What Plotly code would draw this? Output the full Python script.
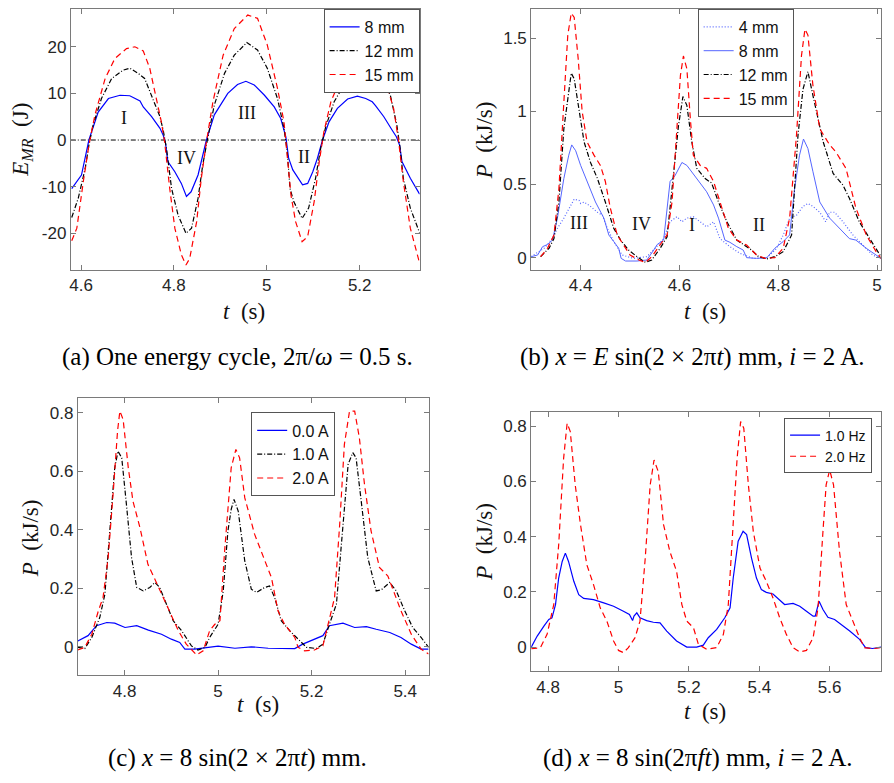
import plotly.graph_objects as go

# ---------------- Panel (a): E_MR vs t ----------------
a_t8 = [4.58,4.601,4.617,4.637,4.659,4.684,4.705,4.727,4.734,4.752,4.77,4.777,4.782,4.787,4.802,4.816,4.827,4.837,4.852,4.862,4.87,4.887,4.916,4.937,4.955,4.973,4.995,5.016,5.03,5.041,5.047,5.056,5.066,5.077,5.088,5.099,5.109,5.12,5.134,5.152,5.174,5.195,5.213,5.227,5.234,5.252,5.27,5.279,5.286,5.291,5.309,5.329]
a_e8 = [-10.4,-7.5,0,6,8.9,9.6,9.5,8.4,7.1,5,2.5,1,-0.7,-4.6,-6.8,-9.3,-12.1,-11.1,-7.5,-3.2,0,5.4,10,11.9,12.6,11.8,9.6,7.1,4.6,0.7,-3.9,-6.4,-7.9,-9.6,-9.3,-6.8,-3.9,0,3.9,6.8,8.8,9.4,8.9,8.2,7.4,5,2.1,0.7,-1.1,-4.6,-8.2,-11.6]
a_t12 = [4.58,4.594,4.609,4.617,4.626,4.644,4.666,4.691,4.705,4.723,4.737,4.755,4.77,4.777,4.784,4.795,4.809,4.826,4.838,4.852,4.862,4.872,4.887,4.909,4.93,4.957,4.98,5.001,5.023,5.037,5.044,5.05,5.058,5.076,5.09,5.105,5.116,5.127,5.145,5.166,5.188,5.216,5.252,5.266,5.28,5.287,5.294,5.309,5.329]
a_e12 = [-16.6,-12.5,-6.1,-1.1,3.2,8.9,13.2,15,15.4,14.3,13.2,8.9,5,2.1,-1.8,-10.4,-16.1,-20,-18.9,-12.5,-5.4,0,7.5,14.3,18.2,20.9,19.3,15.4,8.9,2.5,-2.5,-10.4,-13.2,-16.8,-14.6,-8.2,-1.8,2.9,8.2,11.8,13.6,13.9,12.5,9.6,3.2,-1.8,-8.2,-14.6,-19.9]
a_t15 = [4.58,4.591,4.605,4.617,4.63,4.652,4.673,4.698,4.716,4.734,4.748,4.762,4.773,4.78,4.791,4.802,4.816,4.826,4.834,4.849,4.859,4.87,4.884,4.906,4.93,4.959,4.98,5.001,5.023,5.037,5.044,5.052,5.062,5.076,5.088,5.102,5.113,5.123,5.138,5.159,5.185,5.21,5.235,5.258,5.273,5.284,5.294,5.309,5.329]
a_e15 = [-21.6,-18.9,-8.9,-1.1,5.4,13.2,17.5,19.6,20,19.1,15.4,8.9,3.9,-0.4,-10.4,-18.9,-24.6,-26.8,-25.4,-17.5,-8.2,-0.4,8.2,18.2,23.9,26.8,26.1,20.4,11.1,3.9,-3.9,-11.8,-17.5,-21.8,-20.7,-13.2,-4.6,1.8,8.2,13.2,17.5,18.8,16.2,11.8,6.8,-0.4,-8.9,-18.9,-26.4]
a_zero_t = [4.578, 5.329]
a_zero_e = [0, 0]
a_labels = ["I", "III", "IV", "II"]
a_label_t = [4.692, 4.958, 4.827, 5.08]
a_label_e = [4.8, 5.8, -3.9, -3.6]

# ---------------- Panel (b): P vs t, amplitudes ----------------
b_t4 = [4.3,4.326,4.343,4.353,4.366,4.38,4.387,4.397,4.4,4.407,4.42,4.434,4.444,4.454,4.467,4.484,4.507,4.534,4.551,4.568,4.581,4.595,4.605,4.615,4.628,4.642,4.655,4.669,4.682,4.702,4.722,4.749,4.777,4.797,4.81,4.823,4.837,4.85,4.86,4.87,4.884,4.896,4.904,4.914,4.931,4.951,4.971,4.991,5.008]
b_p4 = [0.007,0.064,0.13,0.2,0.27,0.36,0.4,0.39,0.37,0.38,0.35,0.31,0.29,0.2,0.11,0.018,-0.005,0.007,0.064,0.13,0.245,0.28,0.245,0.27,0.28,0.245,0.21,0.245,0.13,0.075,0.03,-0.005,0,0.064,0.155,0.27,0.29,0.35,0.37,0.35,0.31,0.245,0.31,0.31,0.245,0.155,0.086,0.018,-0.005]
b_t8 = [4.3,4.313,4.323,4.333,4.343,4.353,4.366,4.376,4.382,4.39,4.4,4.413,4.43,4.447,4.457,4.467,4.477,4.482,4.491,4.514,4.534,4.548,4.555,4.568,4.581,4.591,4.605,4.615,4.635,4.655,4.669,4.679,4.692,4.702,4.716,4.729,4.736,4.756,4.777,4.793,4.81,4.823,4.833,4.843,4.851,4.86,4.87,4.884,4.904,4.924,4.944,4.957,4.978,4.998,5.008]
b_p8 = [0.007,0.018,0.075,0.09,0.12,0.27,0.54,0.7,0.77,0.73,0.63,0.52,0.38,0.27,0.155,0.11,0.064,-0.005,-0.023,-0.023,-0.016,0.052,0.09,0.12,0.52,0.56,0.65,0.63,0.54,0.45,0.36,0.27,0.12,0.105,0.075,0.052,0,-0.005,0,0.064,0.11,0.155,0.47,0.7,0.81,0.745,0.59,0.38,0.27,0.2,0.13,0.12,0.064,0.018,-0.005]
b_t12 = [4.319,4.336,4.346,4.356,4.366,4.376,4.381,4.387,4.397,4.407,4.42,4.434,4.45,4.467,4.481,4.497,4.514,4.531,4.544,4.561,4.575,4.588,4.598,4.607,4.615,4.625,4.635,4.652,4.665,4.679,4.696,4.716,4.732,4.746,4.76,4.777,4.793,4.81,4.827,4.84,4.85,4.86,4.87,4.891,4.911,4.931,4.944,4.964,4.985,5.008]
b_p12 = [0.007,0.064,0.13,0.38,0.88,1.15,1.26,1.22,1.0,0.79,0.65,0.54,0.38,0.2,0.12,0.052,0.007,-0.032,-0.016,0.064,0.143,0.56,0.9,1.1,1.04,0.79,0.61,0.54,0.51,0.38,0.245,0.12,0.086,0.052,0.007,-0.009,0.007,0.041,0.155,0.84,1.15,1.27,1.11,0.79,0.575,0.495,0.405,0.245,0.13,0.007]
b_t15 = [4.319,4.333,4.346,4.356,4.366,4.374,4.381,4.387,4.395,4.403,4.413,4.427,4.44,4.45,4.46,4.474,4.487,4.5,4.518,4.531,4.544,4.561,4.575,4.585,4.595,4.602,4.608,4.615,4.622,4.628,4.642,4.655,4.669,4.682,4.699,4.716,4.736,4.756,4.773,4.793,4.81,4.823,4.837,4.847,4.854,4.86,4.87,4.884,4.904,4.917,4.937,4.957,4.978,4.998,5.008]
b_p15 = [0.007,0.064,0.155,0.47,1.06,1.52,1.67,1.64,1.36,1.0,0.79,0.7,0.63,0.52,0.34,0.155,0.086,0.018,-0.016,-0.032,0.007,0.086,0.155,0.38,0.88,1.245,1.377,1.29,0.95,0.7,0.63,0.61,0.52,0.38,0.2,0.12,0.086,0.018,-0.005,0,0.064,0.27,0.84,1.38,1.56,1.52,1.18,0.88,0.77,0.72,0.61,0.34,0.155,0.041,-0.005]
b_labels = ["III", "IV", "I", "II"]
b_label_t = [4.396, 4.524, 4.625, 4.761]
b_label_p = [0.234, 0.227, 0.22, 0.22]

# ---------------- Panel (c): P vs t, currents ----------------
c_t0 = [4.7,4.722,4.74,4.762,4.779,4.801,4.826,4.851,4.879,4.9,4.918,4.929,4.95,4.979,5.0,5.036,5.071,5.107,5.164,5.181,5.203,5.224,5.238,5.267,5.292,5.317,5.338,5.367,5.391,5.413,5.434,5.45]
c_p0 = [0.02,0.038,0.072,0.083,0.081,0.066,0.072,0.057,0.043,0.026,0.015,-0.008,-0.008,-0.002,0.002,-0.005,0,-0.005,-0.006,0.009,0.023,0.038,0.072,0.081,0.066,0.069,0.06,0.049,0.032,0.009,-0.008,-0.008]
c_t1 = [4.7,4.715,4.73,4.747,4.758,4.769,4.779,4.786,4.794,4.804,4.815,4.826,4.84,4.854,4.865,4.875,4.89,4.904,4.922,4.943,4.957,4.972,4.982,5.0,5.011,5.021,5.028,5.034,5.043,5.057,5.071,5.082,5.1,5.11,5.121,5.135,5.153,5.171,5.189,5.21,5.224,5.238,5.253,5.263,5.278,5.288,5.295,5.306,5.32,5.338,5.349,5.367,5.381,5.399,5.416,5.434,5.45]
c_p1 = [-0.002,-0.006,0.032,0.1,0.18,0.396,0.612,0.669,0.646,0.487,0.305,0.203,0.191,0.203,0.22,0.203,0.146,0.089,0.055,0.003,-0.011,-0.002,0.032,0.077,0.191,0.396,0.47,0.504,0.464,0.294,0.197,0.186,0.203,0.208,0.168,0.089,0.055,0.026,-0.002,-0.006,0.009,0.077,0.146,0.339,0.624,0.664,0.646,0.498,0.305,0.191,0.195,0.22,0.191,0.123,0.066,0.032,-0.002]
c_t2 = [4.7,4.715,4.73,4.744,4.754,4.765,4.776,4.785,4.79,4.797,4.808,4.818,4.833,4.85,4.868,4.883,4.897,4.915,4.932,4.954,4.968,4.982,4.993,5.004,5.014,5.028,5.038,5.046,5.057,5.078,5.1,5.114,5.128,5.142,5.164,5.171,5.185,5.206,5.224,5.238,5.249,5.26,5.27,5.281,5.292,5.302,5.313,5.327,5.345,5.363,5.377,5.391,5.413,5.434,5.45]
c_p2 = [-0.011,-0.002,0.043,0.123,0.168,0.305,0.533,0.737,0.806,0.777,0.612,0.498,0.407,0.282,0.22,0.168,0.117,0.055,0.009,-0.028,-0.014,0.055,0.077,0.089,0.328,0.612,0.675,0.646,0.51,0.385,0.294,0.237,0.123,0.077,0.032,-0.002,-0.014,-0.011,0.003,0.1,0.168,0.419,0.692,0.806,0.806,0.715,0.555,0.396,0.271,0.242,0.18,0.123,0.043,-0.008,-0.025]

# ---------------- Panel (d): P vs t, frequencies ----------------
d_t1 = [4.752,4.769,4.788,4.802,4.811,4.821,4.83,4.84,4.849,4.858,4.873,4.887,4.901,4.929,4.958,4.986,5.014,5.031,5.04,5.044,5.052,5.061,5.08,5.099,5.118,5.137,5.165,5.194,5.222,5.241,5.255,5.279,5.302,5.317,5.326,5.34,5.354,5.364,5.378,5.392,5.406,5.42,5.439,5.458,5.472,5.496,5.515,5.534,5.553,5.559,5.564,5.57,5.581,5.595,5.614,5.633,5.657,5.685,5.702,5.722,5.746]
d_p1 = [0,0.04,0.076,0.1,0.106,0.154,0.25,0.31,0.34,0.31,0.238,0.19,0.176,0.172,0.16,0.148,0.13,0.118,0.096,0.112,0.124,0.106,0.096,0.09,0.088,0.058,0.022,0,0,0.007,0.034,0.064,0.106,0.142,0.25,0.383,0.419,0.407,0.322,0.25,0.208,0.198,0.192,0.172,0.154,0.158,0.148,0.13,0.112,0.112,0.142,0.166,0.136,0.108,0.1,0.082,0.058,0.028,-0.002,-0.005,0]
d_t2 = [4.752,4.778,4.797,4.816,4.83,4.844,4.854,4.863,4.877,4.892,4.91,4.929,4.948,4.967,4.986,5.0,5.014,5.028,5.047,5.061,5.076,5.09,5.101,5.113,5.128,5.146,5.165,5.18,5.194,5.213,5.227,5.251,5.279,5.298,5.312,5.326,5.337,5.347,5.356,5.369,5.383,5.402,5.42,5.439,5.458,5.477,5.496,5.515,5.534,5.553,5.567,5.581,5.59,5.6,5.611,5.628,5.647,5.666,5.685,5.699,5.722,5.746]
d_p2 = [-0.006,-0.002,0.046,0.154,0.37,0.683,0.81,0.78,0.587,0.443,0.298,0.226,0.142,0.094,0.022,-0.012,-0.02,-0.002,0.034,0.094,0.322,0.587,0.677,0.635,0.443,0.346,0.274,0.154,0.094,0.07,0.01,-0.008,-0.002,0.046,0.154,0.443,0.683,0.816,0.792,0.587,0.419,0.286,0.238,0.178,0.106,0.046,-0.002,-0.018,-0.012,0.034,0.142,0.419,0.587,0.641,0.587,0.346,0.154,0.094,0.034,-0.002,-0.006,-0.002]

# ---------------- Styling ----------------
BLUE = "#0000ff"
LBLUE = "#5566ff"
RED = "#ff0000"
BLACK = "#000000"
DASH = "6px,4px"
DASHDOT = "5px,2px,1px,2px"
DOT = "1px,2px"
LW = 1.2
SANS = "Liberation Sans, Arial, sans-serif"
TICKF = dict(family=SANS, size=17, color="#262626")
SERIF = "Liberation Serif, Times New Roman, serif"

fig = go.Figure()

def add(x, y, name, color, dash, xa, ya, leg, show=True, width=LW):
    fig.add_trace(go.Scatter(x=x, y=y, mode="lines", name=name,
                             line=dict(color=color, dash=dash, width=width),
                             xaxis=xa, yaxis=ya, legend=leg, showlegend=show))

# panel a
add(a_zero_t, a_zero_e, "zero", BLACK, DASHDOT, "x", "y", "legend", show=False, width=1)
add(a_t8, a_e8, "8 mm", BLUE, "solid", "x", "y", "legend")
add(a_t12, a_e12, "12 mm", BLACK, DASHDOT, "x", "y", "legend")
add(a_t15, a_e15, "15 mm", RED, DASH, "x", "y", "legend")
# panel b
add(b_t4, b_p4, "4 mm", LBLUE, DOT, "x2", "y2", "legend2", width=1.2)
add(b_t8, b_p8, "8 mm", LBLUE, "solid", "x2", "y2", "legend2", width=1)
add(b_t12, b_p12, "12 mm", BLACK, DASHDOT, "x2", "y2", "legend2")
add(b_t15, b_p15, "15 mm", RED, DASH, "x2", "y2", "legend2")
# panel c
add(c_t0, c_p0, "0.0 A", BLUE, "solid", "x3", "y3", "legend3")
add(c_t1, c_p1, "1.0 A", BLACK, DASHDOT, "x3", "y3", "legend3")
add(c_t2, c_p2, "2.0 A", RED, DASH, "x3", "y3", "legend3")
# panel d
add(d_t1, d_p1, "1.0 Hz", BLUE, "solid", "x4", "y4", "legend4")
add(d_t2, d_p2, "2.0 Hz", RED, DASH, "x4", "y4", "legend4")

# The page has an 8px body margin; the figure is sized to fit the window.
OX, OY = 8, 7
W, H = 894 - OX, 783 - OY
def px(x):
    return (x - OX) / W
def py(y):
    return 1 - (y - OY) / H
def clamp(v):
    return max(0.0, min(1.0, v))
def dom_x(l, r):
    return [clamp(px(l)), clamp(px(r))]
def dom_y(t, b):
    return [clamp(py(b)), clamp(py(t))]

ax_common = dict(showline=True, linecolor="#7a7a7a", linewidth=1, mirror="ticks",
                 ticks="inside", ticklen=5, tickcolor="#7a7a7a", showgrid=False,
                 zeroline=False, tickfont=TICKF)

layout_axes = {
    "xaxis": dict(domain=dom_x(69, 419), range=[4.578, 5.329], tickvals=[4.6, 4.8, 5.0, 5.2],
                  ticktext=["4.6", "4.8", "5", "5.2"], anchor="y", **ax_common),
    "yaxis": dict(domain=dom_y(7, 268), range=[-27.8, 28.1], tickvals=[-20, -10, 0, 10, 20],
                  ticktext=["-20", "-10", "0", "10", "20"], anchor="x", **ax_common),
    "xaxis2": dict(domain=dom_x(531, 882), range=[4.3, 5.008], tickvals=[4.4, 4.6, 4.8, 5.0],
                   ticktext=["4.4", "4.6", "4.8", "5"], anchor="y2", **ax_common),
    "yaxis2": dict(domain=dom_y(7, 268), range=[-0.082, 1.698], tickvals=[0, 0.5, 1, 1.5],
                   ticktext=["0", "0.5", "1", "1.5"], anchor="x2", **ax_common),
    "xaxis3": dict(domain=dom_x(76, 428), range=[4.7, 5.45], tickvals=[4.8, 5.0, 5.2, 5.4],
                   ticktext=["4.8", "5", "5.2", "5.4"], anchor="y3", **ax_common),
    "yaxis3": dict(domain=dom_y(397, 674), range=[-0.097, 0.849], tickvals=[0, 0.2, 0.4, 0.6, 0.8],
                   ticktext=["0", "0.2", "0.4", "0.6", "0.8"], anchor="x3", **ax_common),
    "xaxis4": dict(domain=dom_x(531, 882), range=[4.752, 5.746], tickvals=[4.8, 5.0, 5.2, 5.4, 5.6],
                   ticktext=["4.8", "5", "5.2", "5.4", "5.6"], anchor="y4", **ax_common),
    "yaxis4": dict(domain=dom_y(411, 670), range=[-0.087, 0.849], tickvals=[0, 0.2, 0.4, 0.6, 0.8],
                   ticktext=["0", "0.2", "0.4", "0.6", "0.8"], anchor="x4", **ax_common),
}

leg_common = dict(bgcolor="white", bordercolor="#555555", borderwidth=1,
                  font=dict(family=SANS, size=16, color="#111"),
                  tracegroupgap=0, itemwidth=30)

annotations = []
def txt(x, y, text, size, xref="paper", yref="paper", angle=0, family=SERIF, color="#111"):
    annotations.append(dict(x=x, y=y, xref=xref, yref=yref, text=text, showarrow=False,
                            font=dict(family=family, size=size, color=color), textangle=angle,
                            xanchor="center", yanchor="middle"))

# roman numeral labels
for s, tx, ty in zip(a_labels, a_label_t, a_label_e):
    txt(tx, ty, s, 18, "x", "y")
for s, tx, ty in zip(b_labels, b_label_t, b_label_p):
    txt(tx, ty, s, 18, "x2", "y2")

# axis titles
AT = 23
txt(px(243), py(310), "<i>t</i>  (s)", AT)
txt(px(705), py(310), "<i>t</i>  (s)", AT)
txt(px(257), py(703), "<i>t</i>  (s)", AT)
txt(px(705), py(710), "<i>t</i>  (s)", AT)
txt(px(20), py(138), "<i>E</i><sub><i>MR</i></sub>  (J)", AT, angle=-90)
txt(px(484), py(138), "<i>P</i>  (kJ/s)", AT, angle=-90)
txt(px(28), py(537), "<i>P</i>  (kJ/s)", AT, angle=-90)
txt(px(484), py(540), "<i>P</i>  (kJ/s)", AT, angle=-90)

# captions
CS = 25
txt(px(236), py(355), "(a) One energy cycle, 2π/<i>ω</i> = 0.5 s.", CS, color="#000")
txt(px(693), py(355), "(b) <i>x</i> = <i>E</i> sin(2 × 2π<i>t</i>) mm, <i>i</i> = 2 A.", CS, color="#000")
txt(px(236), py(757), "(c) <i>x</i> = 8 sin(2 × 2π<i>t</i>) mm.", CS, color="#000")
txt(px(698), py(757), "(d) <i>x</i> = 8 sin(2π<i>ft</i>) mm, <i>i</i> = 2 A.", CS, color="#000")

fig.update_layout(
    width=W, height=H, margin=dict(l=0, r=0, t=0, b=0),
    paper_bgcolor="white", plot_bgcolor="white",
    annotations=annotations,
    legend=dict(x=px(419), y=py(7), xanchor="right", yanchor="top", **leg_common),
    legend2=dict(x=px(698), y=py(7), xanchor="left", yanchor="top", **leg_common),
    legend3=dict(x=px(250), y=py(411), xanchor="left", yanchor="top", **leg_common),
    legend4=dict(x=px(873), y=py(417), xanchor="right", yanchor="top",
                 **{**leg_common, "font": dict(family=SANS, size=14, color="#111")}),
    **layout_axes,
)

fig.write_html("out.html")
